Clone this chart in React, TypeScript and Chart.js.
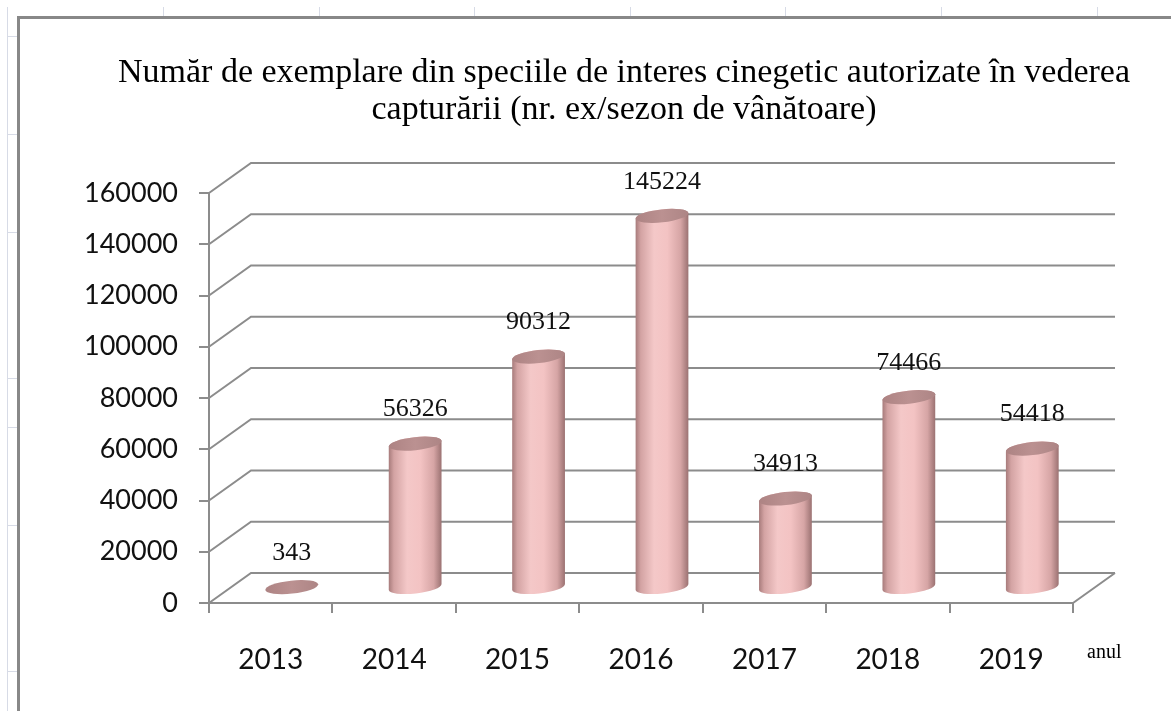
import React, { useEffect, useRef } from "react";
import { Chart, registerables } from "chart.js";

Chart.register(...registerables);

const categories = ["2013", "2014", "2015", "2016", "2017", "2018", "2019"];
const values = [343, 56326, 90312, 145224, 34913, 74466, 54418];
const yMin = 0;
const yMax = 160000;
const yStep = 20000;
const titleLines = [
  "Număr de exemplare din speciile de interes cinegetic autorizate în vederea",
  "capturării (nr. ex/sezon de vânătoare)",
];
const axisUnit = "anul";

const W = 1171;
const H = 711;
const DX = 42;
const DY = -30;
const GRID = "#8c8c8c";

const backgroundPlugin = {
  id: "sheetBackground",
  beforeDraw(chart: any) {
    const ctx = chart.ctx;
    ctx.save();
    ctx.fillStyle = "#ffffff";
    ctx.fillRect(0, 0, W, H);
    // faint spreadsheet cell lines behind the chart object
    ctx.strokeStyle = "#d7dbe6";
    ctx.lineWidth = 1;
    ctx.beginPath();
    ctx.moveTo(7.5, 7);
    ctx.lineTo(7.5, H);
    [36, 134, 232, 378, 427, 525, 671].forEach((y) => {
      ctx.moveTo(7, y + 0.5);
      ctx.lineTo(17, y + 0.5);
    });
    [163, 319, 474, 630, 785, 941, 1097].forEach((x) => {
      ctx.moveTo(x + 0.5, 7);
      ctx.lineTo(x + 0.5, 16);
    });
    ctx.stroke();
    // chart object frame
    ctx.strokeStyle = "#888888";
    ctx.lineWidth = 3;
    ctx.beginPath();
    ctx.moveTo(18.5, H + 2);
    ctx.lineTo(18.5, 17.5);
    ctx.lineTo(W + 2, 17.5);
    ctx.stroke();
    ctx.restore();
  },
};

const wallsPlugin = {
  id: "walls3d",
  beforeDatasetsDraw(chart: any) {
    const ctx = chart.ctx;
    const { left, right, bottom } = chart.chartArea;
    const ys = chart.scales.y;
    ctx.save();
    ctx.strokeStyle = GRID;
    ctx.lineWidth = 2;
    ctx.lineCap = "butt";
    ctx.beginPath();
    ys.ticks.forEach((t: any) => {
      const y = ys.getPixelForValue(t.value);
      ctx.moveTo(left, y);
      ctx.lineTo(left + DX, y + DY);
      ctx.lineTo(right + DX, y + DY);
    });
    ctx.moveTo(right, bottom);
    ctx.lineTo(right + DX, bottom + DY);
    ctx.stroke();
    ctx.restore();
  },
  afterDatasetsDraw(chart: any) {
    const ctx = chart.ctx;
    const meta = chart.getDatasetMeta(0);
    const rot = -0.11;
    meta.data.forEach((el: any, i: number) => {
      const { x, y, base, width } = el.getProps(["x", "y", "base", "width"], true);
      const cx = x + DX / 2;
      const topY = y + DY / 2;
      const botY = base + DY / 2;
      const rx = width / 2;
      const ry = 6.5;
      const cs = Math.cos(rot);
      const sn = Math.sin(rot);
      ctx.save();
      if (botY - topY > 1.5) {
        const g = ctx.createLinearGradient(cx - rx, 0, cx + rx, 0);
        g.addColorStop(0, "#a67a7a");
        g.addColorStop(0.1, "#d3a3a3");
        g.addColorStop(0.35, "#f4c8c8");
        g.addColorStop(0.6, "#f3c3c3");
        g.addColorStop(0.85, "#d6a5a5");
        g.addColorStop(1, "#9a7171");
        ctx.fillStyle = g;
        ctx.beginPath();
        ctx.ellipse(cx, botY, rx, ry, rot, 0, Math.PI);
        ctx.lineTo(cx - rx * cs, topY - rx * sn);
        ctx.ellipse(cx, topY, rx, ry, rot, Math.PI, 0, false);
        ctx.closePath();
        ctx.fill();
      }
      const tg = ctx.createLinearGradient(cx - rx, 0, cx + rx, 0);
      tg.addColorStop(0, "#ad8383");
      tg.addColorStop(0.5, "#bb9191");
      tg.addColorStop(1, "#ad8585");
      ctx.fillStyle = tg;
      ctx.beginPath();
      ctx.ellipse(cx, topY, rx, ry, rot, 0, Math.PI * 2);
      ctx.fill();

      ctx.fillStyle = "#111111";
      ctx.font = '26px "Liberation Serif"';
      ctx.textAlign = "center";
      ctx.textBaseline = "middle";
      ctx.fillText(String(values[i]), cx, topY - 34);
      ctx.restore();
    });
  },
  afterDraw(chart: any) {
    const ctx = chart.ctx;
    const { right, bottom } = chart.chartArea;
    ctx.save();
    ctx.fillStyle = "#000000";
    ctx.font = '34px "Liberation Serif"';
    ctx.textAlign = "center";
    ctx.textBaseline = "middle";
    titleLines.forEach((line, i) => {
      ctx.fillText(line, 624, 73 + i * 37);
    });
    ctx.font = '20px "Liberation Serif"';
    ctx.textAlign = "left";
    ctx.textBaseline = "alphabetic";
    ctx.fillText(axisUnit, right + 14, bottom + 55);
    ctx.restore();
  },
};

export default function App() {
  const ref = useRef<HTMLCanvasElement | null>(null);
  useEffect(() => {
    if (!ref.current) return;
    const chart = new Chart(ref.current, {
      type: "bar",
      data: {
        labels: categories,
        datasets: [
          {
            data: values,
            backgroundColor: "rgba(0,0,0,0)",
            borderWidth: 0,
            barPercentage: 0.43,
            categoryPercentage: 1,
          },
        ],
      },
      options: {
        responsive: false,
        animation: false,
        devicePixelRatio: 1,
        layout: { padding: { top: 193, left: 0, right: 98, bottom: 0 } },
        plugins: {
          legend: { display: false },
          title: { display: false },
          tooltip: { enabled: false },
        },
        scales: {
          x: {
            afterFit: (s: any) => {
              s.height = 108;
            },
            grid: {
              display: true,
              offset: true,
              drawOnChartArea: false,
              drawTicks: true,
              tickLength: 10,
              color: GRID,
              lineWidth: 2,
            },
            border: { display: true, color: GRID, width: 2 },
            ticks: {
              font: { family: "Lato", size: 28 },
              color: "#111111",
              padding: 30,
              maxRotation: 0,
            },
          },
          y: {
            min: yMin,
            max: yMax,
            afterFit: (s: any) => {
              s.width = 209;
            },
            grid: {
              display: true,
              drawOnChartArea: false,
              drawTicks: true,
              tickLength: 10,
              color: GRID,
              lineWidth: 2,
            },
            border: { display: true, color: GRID, width: 2 },
            ticks: {
              stepSize: yStep,
              font: { family: "Lato", size: 27 },
              color: "#111111",
              padding: 21,
              callback: (v: any) => String(v),
            },
          },
        },
      },
      plugins: [backgroundPlugin, wallsPlugin],
    });
    return () => chart.destroy();
  }, []);
  return (
    <div style={{ position: "absolute", left: 0, top: 0, width: W, height: H, background: "#fff" }}>
      <canvas ref={ref} width={W} height={H} style={{ display: "block" }} />
    </div>
  );
}
